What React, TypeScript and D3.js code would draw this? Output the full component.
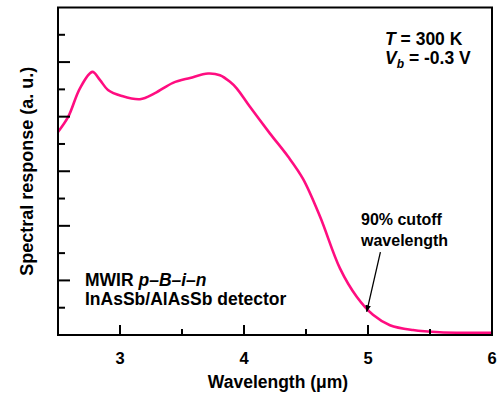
import React, { useRef, useEffect } from 'react';
import * as d3 from 'd3';

const wavelength = [2.5, 2.583, 2.677, 2.777, 2.839, 2.903, 3.014, 3.161, 3.282, 3.427, 3.565, 3.71, 3.806, 3.887, 3.941, 4.048, 4.21, 4.355, 4.476, 4.613, 4.774, 4.909, 5.04, 5.177, 5.363, 5.58, 6.0];
const response = [3.72, 4.0, 4.52, 4.82, 4.67, 4.49, 4.38, 4.32, 4.43, 4.62, 4.71, 4.79, 4.76, 4.64, 4.52, 4.18, 3.69, 3.27, 2.86, 2.17, 1.22, 0.70, 0.37, 0.18, 0.09, 0.05, 0.04];

const xMajorTicks = [3, 4, 5, 6];
const xMinorTicks = [3.5, 4.5, 5.5];
const yMajorTicks = [1, 2, 3, 4, 5];
const yMinorTicks = [0.5, 1.5, 2.5, 3.5, 4.5, 5.5];

// arrow for the cutoff note: [tail, head] in data units
const arrowFrom = [5.1, 1.52];
const arrowTo = [4.99, 0.43];

const FONT = "'Liberation Sans', Arial, sans-serif";

function App() {
    const svgRef = useRef<SVGSVGElement>(null);
    const W = 503, H = 396;
    const left = 58, right = 492, top = 7.5, bottom = 335;

    useEffect(() => {
        const svg = d3.select(svgRef.current);
        svg.selectAll("*").remove();

        const x = d3.scaleLinear().domain([2.5, 6]).range([left, right]);
        const y = d3.scaleLinear().domain([0, 6]).range([bottom, top]);

        const data = wavelength.map((w, i) => ({ w, r: response[i] }));

        svg.append("defs").append("marker")
            .attr("id", "arrowhead")
            .attr("viewBox", "0 0 10 10")
            .attr("refX", 9).attr("refY", 5)
            .attr("markerWidth", 7).attr("markerHeight", 7)
            .attr("markerUnits", "userSpaceOnUse")
            .attr("orient", "auto")
            .append("path")
            .attr("d", "M0,1 L10,5 L0,9 Z")
            .attr("fill", "black");

        const line = d3.line<{ w: number, r: number }>()
            .x(d => x(d.w))
            .y(d => y(d.r))
            .curve(d3.curveCatmullRom);

        svg.append("path")
            .datum(data)
            .attr("fill", "none")
            .attr("stroke", "#ff0d80")
            .attr("stroke-width", 2.6)
            .attr("d", line);

        // frame
        svg.append("rect")
            .attr("x", left).attr("y", top)
            .attr("width", right - left).attr("height", bottom - top)
            .attr("fill", "none").attr("stroke", "black").attr("stroke-width", 2);

        // ticks, inward
        const g = svg.append("g").attr("stroke", "black").attr("stroke-width", 2);
        xMajorTicks.forEach(t => g.append("line").attr("x1", x(t)).attr("x2", x(t)).attr("y1", bottom).attr("y2", bottom - 10));
        xMinorTicks.forEach(t => g.append("line").attr("x1", x(t)).attr("x2", x(t)).attr("y1", bottom).attr("y2", bottom - 6));
        yMajorTicks.forEach(t => g.append("line").attr("x1", left).attr("x2", left + 12).attr("y1", y(t)).attr("y2", y(t)));
        yMinorTicks.forEach(t => g.append("line").attr("x1", left).attr("x2", left + 7).attr("y1", y(t)).attr("y2", y(t)));

        svg.append("g").selectAll("text")
            .data(xMajorTicks)
            .join("text")
            .attr("x", d => x(d)).attr("y", 364)
            .attr("text-anchor", "middle")
            .attr("font-family", FONT).attr("font-weight", "bold").attr("font-size", 16.5)
            .text(d => d);

        svg.append("text")
            .attr("x", (left + right) / 2 + 3).attr("y", 388)
            .attr("text-anchor", "middle")
            .attr("font-family", FONT).attr("font-weight", "bold").attr("font-size", 17.5)
            .text("Wavelength (\u03bcm)");

        svg.append("text")
            .attr("transform", `translate(33, ${(top + bottom) / 2}) rotate(-90)`)
            .attr("text-anchor", "middle")
            .attr("font-family", FONT).attr("font-weight", "bold").attr("font-size", 18)
            .text("Spectral response (a. u.)");

        // conditions
        const t1 = svg.append("text")
            .attr("x", 385).attr("y", 45)
            .attr("font-family", FONT).attr("font-weight", "bold").attr("font-size", 17.5);
        t1.append("tspan").attr("font-style", "italic").text("T");
        t1.append("tspan").text(" = 300 K");

        const t2 = svg.append("text")
            .attr("x", 385).attr("y", 64)
            .attr("font-family", FONT).attr("font-weight", "bold").attr("font-size", 17.5);
        t2.append("tspan").attr("font-style", "italic").text("V");
        t2.append("tspan").attr("font-style", "italic").attr("font-size", 12).attr("dy", 4).text("b");
        t2.append("tspan").attr("dy", -4).text(" = -0.3 V");

        // device label
        const t3 = svg.append("text")
            .attr("x", 85).attr("y", 286)
            .attr("font-family", FONT).attr("font-weight", "bold").attr("font-size", 17.5);
        t3.append("tspan").text("MWIR ");
        t3.append("tspan").attr("font-style", "italic").text("p\u2013B\u2013i\u2013n");

        svg.append("text")
            .attr("x", 85).attr("y", 305)
            .attr("font-family", FONT).attr("font-weight", "bold").attr("font-size", 17.5)
            .text("InAsSb/AlAsSb detector");

        svg.append("text")
            .attr("x", 361).attr("y", 225)
            .attr("font-family", FONT).attr("font-weight", "bold").attr("font-size", 16)
            .text("90% cutoff");
        svg.append("text")
            .attr("x", 361).attr("y", 246)
            .attr("font-family", FONT).attr("font-weight", "bold").attr("font-size", 16)
            .text("wavelength");

        svg.append("line")
            .attr("x1", x(arrowFrom[0])).attr("y1", y(arrowFrom[1]))
            .attr("x2", x(arrowTo[0])).attr("y2", y(arrowTo[1]))
            .attr("stroke", "black").attr("stroke-width", 1.3)
            .attr("marker-end", "url(#arrowhead)");
    }, []);

    return (
        <svg
            ref={svgRef}
            width={W}
            height={H}
            style={{ position: 'absolute', left: 0, top: 0, background: 'white' }}
        />
    );
}

export default App;
